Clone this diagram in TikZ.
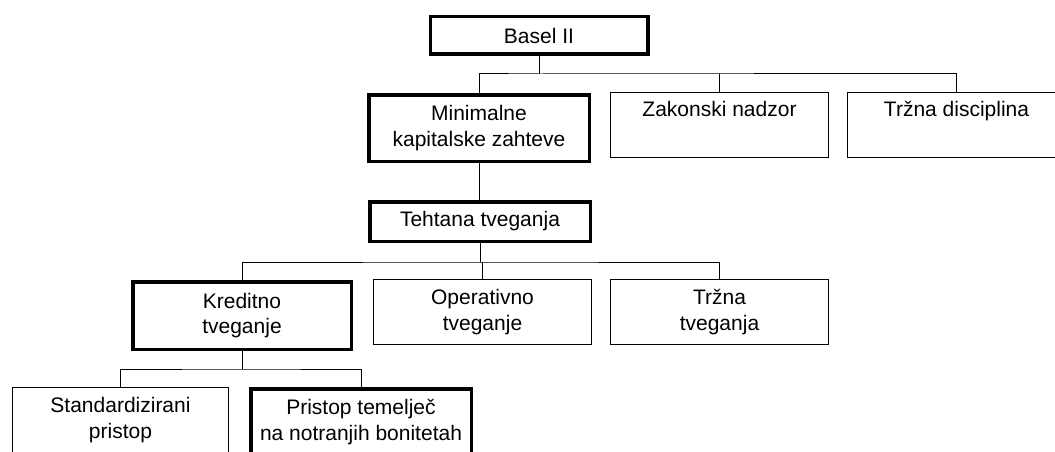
\documentclass[tikz,border=0pt]{standalone}
\usepackage{fontspec}
\setmainfont{Liberation Sans}
\usepackage{tikz}
\usetikzlibrary{positioning,calc}

\begin{document}
\begin{tikzpicture}[x=1pt,y=-1pt,
    box/.style={draw,align=center,inner sep=0pt,font=\fontsize{21}{25.5}\selectfont},
    thinbox/.style={box,line width=1pt,minimum width=218pt,minimum height=65pt},
    thickbox/.style={box,line width=3.5pt,minimum width=220.5pt,minimum height=66.5pt},
    link/.style={line width=1pt}]
    \useasboundingbox (0,0) rectangle (1055,452);
    \clip (0,0) rectangle (1055,452);
    % top level
    \node[thickbox,minimum width=217.5pt,minimum height=37.5pt] (basel) at (539,35.5) {Basel II};
    \node[thickbox] (minimal) at (479,128) {Minimalne\\kapitalske zahteve};
    \node[thinbox] (zakon) at (719.5,125) {Zakonski nadzor\\\strut};
    \node[thinbox] (tdisc) at (956.5,125) {Tržna disciplina\\\strut};
    \coordinate (bus1) at (539,74);
    \draw[link] (basel.south) -- (bus1);
    \draw[link] (minimal.north) |- (bus1) -| (tdisc.north);
    \draw[link] (zakon.north) -- (zakon.north |- bus1);
    % weighted risks
    \node[thickbox,minimum height=39.5pt] (tehtana) at (480,221.5) {Tehtana tveganja};
    \draw[link] (minimal.south) -- (minimal.south |- tehtana.north);
    \node[thickbox,minimum width=218.5pt,minimum height=67.5pt] (kredit) at (242,315.5) {Kreditno\\tveganje};
    \node[thinbox] (operat) at (482.5,312) {Operativno\\tveganje};
    \node[thinbox] (trzna) at (719.5,312) {Tržna\\tveganja};
    \coordinate (bus2) at (480,262);
    \draw[link] (tehtana.south) -- (bus2);
    \draw[link] (kredit.north) |- (bus2) -| (trzna.north);
    \draw[link] (operat.north) -- (operat.north |- bus2);
    % credit risk approaches
    \node[thinbox,minimum width=216pt] (standard) at (120.5,420) {Standardizirani\\pristop};
    \node[thickbox] (pristop) at (361,422) {Pristop temelječ\\na notranjih bonitetah};
    \coordinate (bus3) at (242,369);
    \draw[link] (kredit.south) -- (bus3);
    \draw[link] (standard.north) |- (bus3) -| (pristop.north);
\end{tikzpicture}
\end{document}
